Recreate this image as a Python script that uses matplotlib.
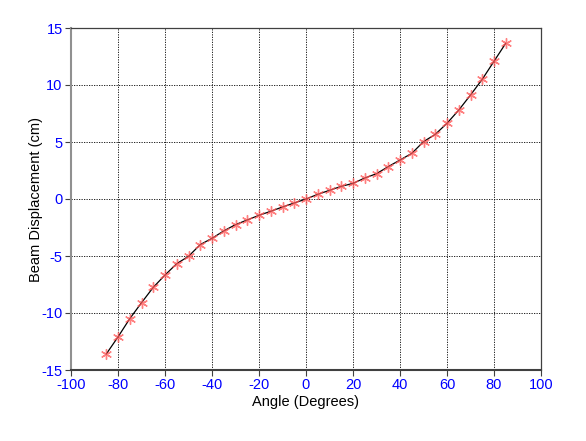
import matplotlib
matplotlib.use("Agg")
import matplotlib.pyplot as plt

angles = [-85, -80, -75, -70, -65, -60, -55, -50, -45, -40, -35, -30, -25, -20, -15, -10, -5,
          0, 5, 10, 15, 20, 25, 30, 35, 40, 45, 50, 55, 60, 65, 70, 75, 80, 85]
displacement = [-13.6, -12.1, -10.5, -9.1, -7.75, -6.67, -5.67, -5.03, -4.0, -3.45, -2.8, -2.25,
                -1.84, -1.43, -1.08, -0.7, -0.35,
                0.0, 0.41, 0.76, 1.11, 1.37, 1.84, 2.22, 2.84, 3.42, 4.0, 5.03, 5.67, 6.64,
                7.8, 9.12, 10.5, 12.08, 13.66]
xticks = [-100, -80, -60, -40, -20, 0, 20, 40, 60, 80, 100]
yticks = [-15, -10, -5, 0, 5, 10, 15]

plt.rcParams['font.family'] = ['Liberation Sans', 'DejaVu Sans']
plt.rcParams['axes.unicode_minus'] = False
fig = plt.figure(figsize=(5.86, 4.41), dpi=100)
ax = fig.add_axes([71/586, 1-370/441, (541-71)/586, (370-28)/441])

ax.plot(angles, displacement, color='black', linewidth=0.9, zorder=3)
ax.scatter(angles, displacement, marker=(6, 2, 0), s=50, color='#ff5555', alpha=0.75,
           linewidths=1.0, zorder=4)

ax.set_xlim(-100, 100)
ax.set_ylim(-15, 15)
ax.set_xticks(xticks)
ax.set_yticks(yticks)
ax.grid(True, color='black', linestyle=(0, (1.5, 1.5)), linewidth=0.6)
ax.tick_params(direction='out', length=4, width=0.8, colors='#404040',
               labelcolor='blue', labelsize=10.5, pad=2)
for s in ax.spines.values():
    s.set_color('#404040')
    s.set_linewidth(0.9)
ax.spines['left'].set_color('#909090')
ax.spines['left'].set_linewidth(1.5)
ax.spines['bottom'].set_linewidth(1.5)

ax.set_xlabel('Angle (Degrees)', fontsize=10.5, labelpad=2)
ax.set_ylabel('Beam Displacement (cm)', fontsize=10.5, labelpad=-1)

fig.savefig('out.png', dpi=100)
